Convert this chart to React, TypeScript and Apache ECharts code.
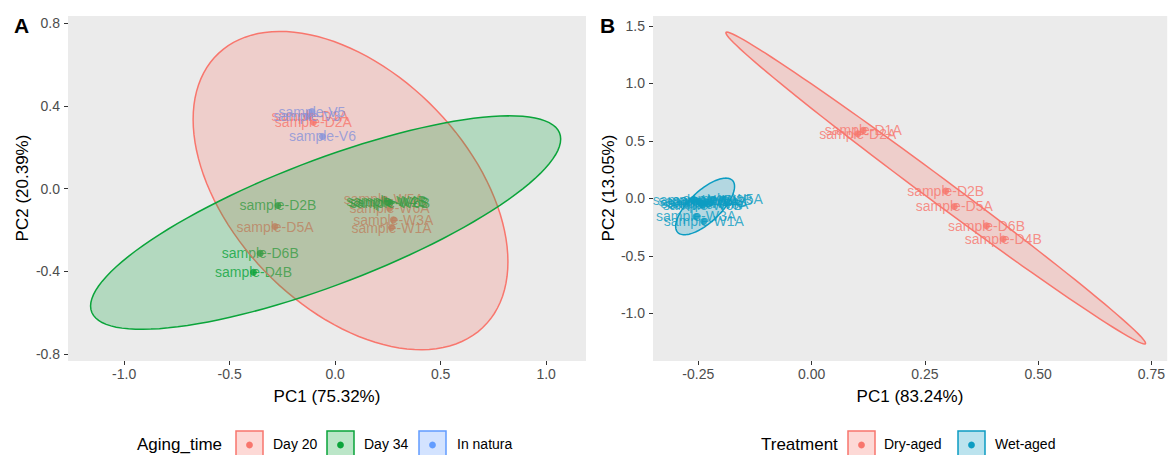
import React, { useEffect, useRef } from "react";
import * as echarts from "echarts";

const FONT = "'Liberation Sans', Arial, Helvetica, sans-serif";

// ---------- tick values ----------
const A_X_TICKS = [-1.0, -0.5, 0, 0.5, 1.0];
const A_Y_TICKS = [-0.8, -0.4, 0, 0.4, 0.8];
const B_X_TICKS = [-0.25, 0, 0.25, 0.5, 0.75];
const B_Y_TICKS = [-1.0, -0.5, 0, 0.5, 1.0, 1.5];

// ---------- panel A: Aging_time ----------
const A_DAY20: [number, number, string][] = [
  [-0.119, 0.352, "sample-D1A"],
  [-0.103, 0.321, "sample-D2A"],
  [-0.285, -0.184, "sample-D5A"],
  [0.231, -0.052, "sample-W5A"],
  [0.258, -0.095, "sample-W6A"],
  [0.276, -0.152, "sample-W3A"],
  [0.267, -0.189, "sample-W1A"],
];
const A_DAY34: [number, number, string][] = [
  [-0.271, -0.082, "sample-D2B"],
  [-0.355, -0.313, "sample-D6B"],
  [-0.387, -0.405, "sample-D4B"],
  [0.243, -0.062, "sample-W4B"],
  [0.252, -0.066, "sample-W2B"],
  [0.26, -0.07, "sample-W6B"],
];
const A_NATURA: [number, number, string][] = [
  [-0.11, 0.372, "sample-V5"],
  [-0.134, 0.349, "sample-V3"],
  [-0.06, 0.252, "sample-V6"],
];

// ---------- panel B: Treatment ----------
const B_DRY: [number, number, string][] = [
  [0.114, 0.592, "sample-D1A"],
  [0.102, 0.563, "sample-D2A"],
  [0.296, 0.064, "sample-D2B"],
  [0.315, -0.07, "sample-D5A"],
  [0.386, -0.238, "sample-D6B"],
  [0.423, -0.354, "sample-D4B"],
];
const B_WET: [number, number, string][] = [
  [-0.25, -0.025, "sample-W2A"],
  [-0.245, -0.04, "sample-W4A"],
  [-0.228, -0.05, "sample-W6A"],
  [-0.262, -0.015, "sample-W1B"],
  [-0.218, -0.01, "sample-W2B"],
  [-0.232, -0.03, "sample-W4B"],
  [-0.24, -0.06, "sample-W6B"],
  [-0.196, -0.006, "sample-W5A"],
  [-0.255, -0.157, "sample-W3A"],
  [-0.238, -0.2, "sample-W1A"],
];

// ---------- confidence ellipses: [cx, cy, ux, uy, vx, vy] ----------
const ELL_A_DAY20 = [0.073, -0.01, 0.746, -0.3445, 0, 0.689];
const ELL_A_DAY34 = [-0.045, -0.165, 1.114, 0.404, 0, 0.322];
const ELL_B_DRY = [0.274, 0.09, 0.461, -1.357, 0.045, 0];
const ELL_B_WET = [-0.235, -0.07, 0.065, 0.1738, 0, 0.1748];

const RED = "#F8766D";
const GREEN = "#0AA43A";
const BLUE = "#619CFF";
const TEAL = "#0C9CC2";

function ellipsePoints(e: number[]) {
  const [cx, cy, ux, uy, vx, vy] = e;
  const pts: number[][] = [];
  const N = 120;
  for (let i = 0; i <= N; i++) {
    const t = (2 * Math.PI * i) / N;
    pts.push([cx + Math.cos(t) * ux + Math.sin(t) * vx, cy + Math.cos(t) * uy + Math.sin(t) * vy]);
  }
  return pts;
}

function hexA(hex: string, a: number) {
  const r = parseInt(hex.slice(1, 3), 16);
  const g = parseInt(hex.slice(3, 5), 16);
  const b = parseInt(hex.slice(5, 7), 16);
  return `rgba(${r},${g},${b},${a})`;
}

function ellipseSeries(e: number[], color: string, idx: number) {
  const pts = ellipsePoints(e);
  return {
    type: "custom",
    xAxisIndex: idx,
    yAxisIndex: idx,
    z: 5,
    silent: true,
    data: [[e[0], e[1]]],
    renderItem: (_params: any, api: any) => ({
      type: "polygon",
      shape: { points: pts.map((p) => api.coord(p)) },
      style: { fill: hexA(color, 0.25), stroke: color, lineWidth: 1.5 },
    }),
  };
}

function pointSeries(pts: [number, number, string][], color: string, idx: number) {
  return {
    type: "scatter",
    xAxisIndex: idx,
    yAxisIndex: idx,
    z: 2,
    silent: true,
    symbolSize: 7,
    itemStyle: { color },
    data: pts.map((p) => ({ value: [p[0], p[1]], name: p[2] })),
    label: {
      show: true,
      position: "inside",
      formatter: "{b}",
      color,
      fontSize: 14,
      fontFamily: FONT,
    },
  };
}

function axis(gridIndex: number, min: number, max: number, ticks: number[], dec: number, isX: boolean) {
  return {
    type: "value",
    gridIndex,
    min,
    max,
    axisLine: { show: false, onZero: false },
    axisTick: { show: true, length: 4, lineStyle: { color: "#333333", width: 1 }, customValues: ticks },
    axisLabel: {
      color: "#4D4D4D",
      fontSize: 14,
      fontFamily: FONT,
      margin: isX ? 6 : 8,
      customValues: ticks,
      formatter: (v: number) => v.toFixed(dec),
    },
    splitLine: { show: false },
  };
}

function legendGroup(
  title: string,
  titleX: number,
  items: { label: string; color: string; boxX: number; labelX: number }[]
) {
  const els: any[] = [
    {
      type: "text",
      left: titleX,
      top: 436,
      style: { text: title, fontSize: 17, fontFamily: FONT, fill: "#000" },
    },
  ];
  items.forEach((it) => {
    els.push({
      type: "rect",
      shape: { x: it.boxX, y: 431, width: 27, height: 28 },
      style: { fill: hexA(it.color, 0.28), stroke: it.color, lineWidth: 1.5 },
    });
    els.push({
      type: "circle",
      shape: { cx: it.boxX + 13.5, cy: 445, r: 3.4 },
      style: { fill: it.color },
    });
    els.push({
      type: "text",
      left: it.labelX,
      top: 437,
      style: { text: it.label, fontSize: 14, fontFamily: FONT, fill: "#000" },
    });
  });
  return els;
}

export default function App() {
  const ref = useRef<HTMLDivElement>(null);
  useEffect(() => {
    if (!ref.current) return;
    const chart = echarts.init(ref.current, undefined, { renderer: "svg" });
    const option: any = {
      animation: false,
      backgroundColor: "#ffffff",
      textStyle: { fontFamily: FONT },
      grid: [
        { left: 68, top: 16, width: 518, height: 345, show: true, backgroundColor: "#EBEBEB", borderWidth: 0 },
        { left: 653, top: 16, width: 515, height: 345, show: true, backgroundColor: "#EBEBEB", borderWidth: 0 },
      ],
      xAxis: [axis(0, -1.266, 1.189, A_X_TICKS, 1, true), axis(1, -0.35, 0.785, B_X_TICKS, 2, true)],
      yAxis: [axis(0, -0.835, 0.835, A_Y_TICKS, 1, false), axis(1, -1.415, 1.587, B_Y_TICKS, 1, false)],
      series: [
        pointSeries(A_DAY20, RED, 0),
        pointSeries(A_DAY34, GREEN, 0),
        pointSeries(A_NATURA, BLUE, 0),
        ellipseSeries(ELL_A_DAY20, RED, 0),
        ellipseSeries(ELL_A_DAY34, GREEN, 0),
        pointSeries(B_DRY, RED, 1),
        pointSeries(B_WET, TEAL, 1),
        ellipseSeries(ELL_B_DRY, RED, 1),
        ellipseSeries(ELL_B_WET, TEAL, 1),
      ],
      graphic: [
        { type: "text", left: 14, top: 15, style: { text: "A", fontSize: 21, fontWeight: "bold", fontFamily: FONT, fill: "#000" } },
        { type: "text", left: 600, top: 15, style: { text: "B", fontSize: 21, fontWeight: "bold", fontFamily: FONT, fill: "#000" } },
        {
          type: "text",
          x: 327,
          y: 396,
          style: { text: "PC1 (75.32%)", fontSize: 17, fontFamily: FONT, fill: "#000", align: "center", verticalAlign: "middle" },
        },
        {
          type: "text",
          x: 910,
          y: 396,
          style: { text: "PC1 (83.24%)", fontSize: 17, fontFamily: FONT, fill: "#000", align: "center", verticalAlign: "middle" },
        },
        {
          type: "text",
          x: 22,
          y: 188,
          rotation: Math.PI / 2,
          style: { text: "PC2 (20.39%)", fontSize: 17, fontFamily: FONT, fill: "#000", align: "center", verticalAlign: "middle" },
        },
        {
          type: "text",
          x: 608,
          y: 188,
          rotation: Math.PI / 2,
          style: { text: "PC2 (13.05%)", fontSize: 17, fontFamily: FONT, fill: "#000", align: "center", verticalAlign: "middle" },
        },
        ...legendGroup("Aging_time", 137, [
          { label: "Day 20", color: RED, boxX: 236, labelX: 273 },
          { label: "Day 34", color: GREEN, boxX: 327, labelX: 364 },
          { label: "In natura", color: BLUE, boxX: 419, labelX: 457 },
        ]),
        ...legendGroup("Treatment", 761, [
          { label: "Dry-aged", color: RED, boxX: 848, labelX: 884 },
          { label: "Wet-aged", color: TEAL, boxX: 958, labelX: 995 },
        ]),
      ],
    };
    chart.setOption(option);
    return () => chart.dispose();
  }, []);
  return (
    <div
      ref={ref}
      style={{ position: "fixed", left: 0, top: 0, width: 1168, height: 455, background: "#fff" }}
    />
  );
}
